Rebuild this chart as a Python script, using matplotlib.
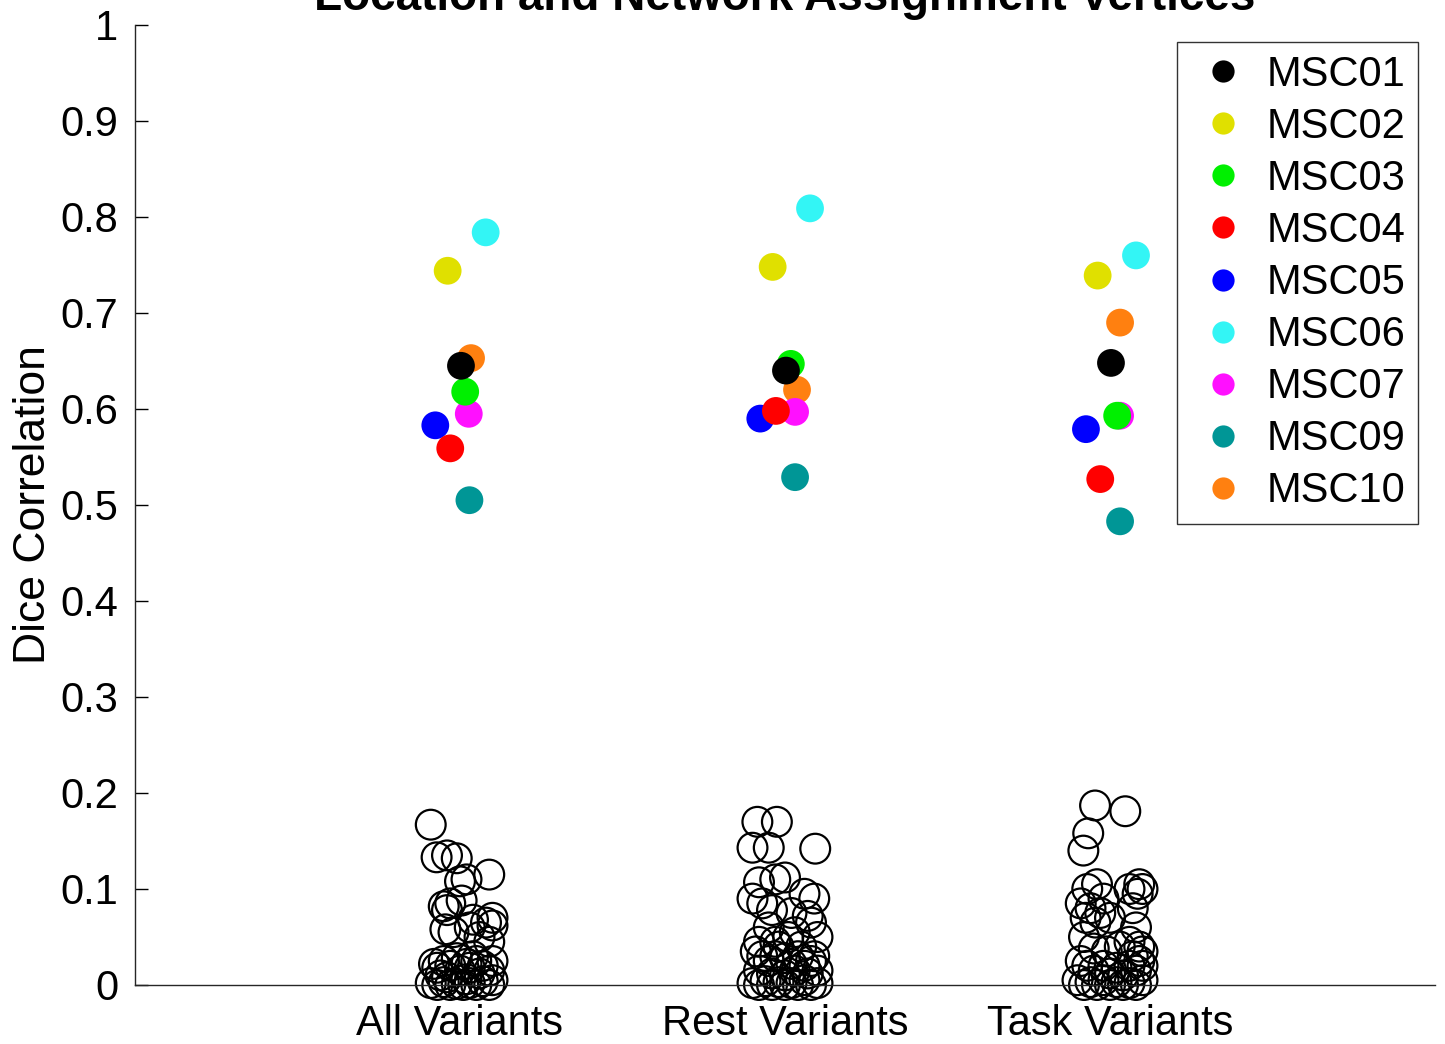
import matplotlib
matplotlib.use("Agg")
import matplotlib.pyplot as plt
from matplotlib.lines import Line2D

plt.rcParams['font.family'] = ['Liberation Sans', 'DejaVu Sans']

# ---------------- data ----------------
categories = ["All Variants", "Rest Variants", "Task Variants"]
subjects = ["MSC01", "MSC02", "MSC03", "MSC04", "MSC05", "MSC06", "MSC07", "MSC09", "MSC10"]
subject_colors = ["#000000", "#E0E000", "#00F000", "#FF0000", "#0000FF",
                  "#33F5F5", "#FF10FF", "#009696", "#FF8010"]
# horizontal jitter of each subject (same in each category)
subject_jitter = [0.003, -0.038, 0.016, -0.03, -0.076, 0.079, 0.027, 0.029, 0.034]

# Dice correlation per subject in each category
all_variants = [0.645, 0.744, 0.618, 0.559, 0.583, 0.784, 0.595, 0.505, 0.653]
rest_variants = [0.640, 0.748, 0.647, 0.598, 0.590, 0.809, 0.597, 0.529, 0.620]
task_variants = [0.648, 0.739, 0.593, 0.527, 0.579, 0.760, 0.593, 0.483, 0.690]
subject_values = [all_variants, rest_variants, task_variants]
# per-category jitter adjustments
cat_jitter_adj = [[0, 0, 0, 0, 0, 0, 0, 0, 0],
                  [0, 0, 0.002, 0.002, 0, -0.002, 0.004, 0.002, 0.003],
                  [0, 0, 0.006, 0, 0.002, 0.001, 0.004, 0.002, -0.003]]

# null (permuted) correlations: (x jitter, value)
null_all_x = [-0.09, -0.072, -0.04, -0.01, 0.09, 0.02, 0.0,
              -0.05, -0.04, -0.03, 0.005, 0.04, 0.08, 0.1, 0.06, 0.09, -0.045, -0.02, 0.03, 0.1,
              -0.08, -0.07, -0.05, -0.03, -0.01, 0.0, 0.02, 0.03, 0.05, 0.07, 0.09, 0.1, -0.06, 0.04, 0.06,
              -0.09, -0.07, -0.05, -0.03, -0.01, 0.01, 0.03, 0.05, 0.07, 0.09, 0.1, -0.04, 0.02]
null_all_y = [0.167, 0.133, 0.135, 0.132, 0.115, 0.11, 0.108,
              0.082, 0.078, 0.085, 0.088, 0.068, 0.065, 0.062, 0.05, 0.045, 0.058, 0.055, 0.06, 0.07,
              0.022, 0.018, 0.025, 0.02, 0.028, 0.015, 0.022, 0.018, 0.025, 0.02, 0.015, 0.025, 0.01, 0.03, 0.012,
              0.002, 0.0, 0.003, 0.0, 0.001, 0.0, 0.002, 0.0, 0.004, 0.0, 0.005, 0.008, 0.006]

null_rest_x = [-0.085, -0.025, -0.1, -0.05, 0.093, -0.08, -0.03, 0.0, 0.06, 0.09, -0.1, -0.07,
               -0.04, 0.02, 0.07, 0.08, -0.05, 0.03, 0.1, -0.08, -0.02, 0.05, 0.09,
               -0.09, -0.07, -0.05, -0.03, 0.0, 0.02, 0.04, 0.06, 0.08, -0.08, -0.04, 0.0, 0.03, 0.07, 0.1,
               -0.1, -0.08, -0.06, -0.04, -0.02, 0.0, 0.02, 0.04, 0.06, 0.08, 0.1, -0.03, 0.01]
null_rest_y = [0.170, 0.170, 0.143, 0.143, 0.142, 0.107, 0.11, 0.112, 0.095, 0.09, 0.09, 0.085,
               0.078, 0.075, 0.072, 0.065, 0.06, 0.055, 0.05, 0.045, 0.04, 0.04, 0.03,
               0.035, 0.03, 0.025, 0.03, 0.028, 0.022, 0.03, 0.02, 0.025, 0.015, 0.012, 0.01, 0.015, 0.012, 0.015,
               0.002, 0.0, 0.004, 0.0, 0.003, 0.0, 0.002, 0.0, 0.005, 0.0, 0.002, 0.045, 0.05]

null_task_x = [-0.046, 0.047, -0.067, -0.082, -0.07, -0.04, -0.02, 0.06, 0.09, 0.085, 0.1,
               -0.09, -0.06, -0.03, -0.045, -0.075, 0.0, 0.07, 0.08, -0.08, -0.05, 0.06, 0.09, 0.1,
               0.07, 0.09, -0.09, -0.07, -0.05, -0.02, 0.0, 0.02, 0.04, 0.06, 0.08, 0.1,
               -0.1, -0.08, -0.06, -0.04, -0.02, 0.0, 0.02, 0.04, 0.06, 0.08, 0.1, -0.01, 0.03]
null_task_y = [0.187, 0.181, 0.158, 0.14, 0.1, 0.105, 0.09, 0.1, 0.105, 0.095, 0.1,
               0.085, 0.08, 0.075, 0.065, 0.07, 0.07, 0.08, 0.06, 0.05, 0.038, 0.045, 0.04, 0.035,
               0.03, 0.025, 0.025, 0.02, 0.015, 0.02, 0.012, 0.018, 0.01, 0.02, 0.015, 0.02,
               0.005, 0.0, 0.003, 0.0, 0.005, 0.0, 0.003, 0.0, 0.002, 0.0, 0.005, 0.035, 0.04]

null_x = [null_all_x, null_rest_x, null_task_x]
null_y = [null_all_y, null_rest_y, null_task_y]

# ---------------- plot ----------------
W, H = 1445, 1044
fig = plt.figure(figsize=(W / 100, H / 100), dpi=100)
ax = fig.add_axes([135 / W, 59 / H, 1300 / W, 960 / H])

for ci in range(len(categories)):
    xs = [ci + 1 + j for j in null_x[ci]]
    ax.scatter(xs, null_y[ci], s=460, facecolors='none', edgecolors='black',
               linewidths=1.6, zorder=2, clip_on=False)

for si in reversed(range(len(subjects))):
    for ci in range(len(categories)):
        x = ci + 1 + subject_jitter[si] + cat_jitter_adj[ci][si]
        ax.scatter([x], [subject_values[ci][si]], s=400, color=subject_colors[si],
                   edgecolors='none', zorder=3)

ax.set_xlim(0, 4)
ax.set_ylim(0, 1)
ax.set_xticks([1, 2, 3])
ax.set_xticklabels(categories)
ax.set_yticks([0, 0.1, 0.2, 0.3, 0.4, 0.5, 0.6, 0.7, 0.8, 0.9, 1.0])
ax.set_yticklabels(["0", "0.1", "0.2", "0.3", "0.4", "0.5", "0.6", "0.7", "0.8", "0.9", "1"])
ax.tick_params(axis='both', direction='in', length=9, width=1, labelsize=30, pad=12)
ax.tick_params(axis='x', length=0, pad=14)
for s in ['top', 'right']:
    ax.spines[s].set_visible(False)
for s in ['left', 'bottom']:
    ax.spines[s].set_linewidth(1)
    ax.spines[s].set_color('#262626')

ax.set_ylabel("Dice Correlation", fontsize=32, labelpad=5)

fig.text(785 / W, 1 - 10 / H, "Location and Network Assignment Vertices",
         ha='center', va='baseline', fontsize=33, fontweight='bold')

handles = [Line2D([], [], linestyle='none', marker='o', markersize=16,
                  markerfacecolor=c, markeredgecolor='none') for c in subject_colors]
leg = ax.legend(handles, subjects, loc='upper right', bbox_to_anchor=(0.987, 0.982),
                borderaxespad=0, fontsize=30, frameon=True, fancybox=False,
                labelspacing=0.29, handletextpad=0.25, handlelength=1.6,
                borderpad=0.3)
leg.get_frame().set_edgecolor('black')
leg.get_frame().set_linewidth(1)

fig.savefig("out.png", dpi=100)
